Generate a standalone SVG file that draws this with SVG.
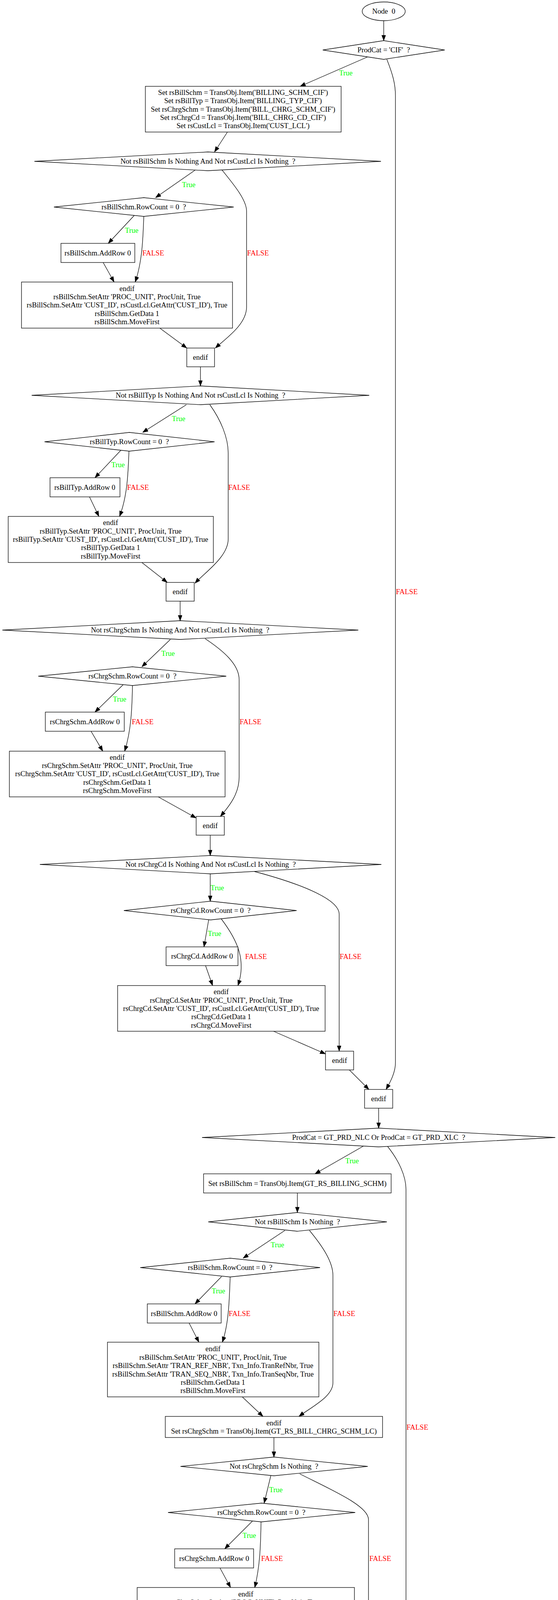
<svg xmlns="http://www.w3.org/2000/svg" width="1428" height="4405" viewBox="0 0 1428 4405" xml:space="preserve">
<style>
.n { fill: #ffffff; stroke: #000000; stroke-width: 1.3; }
.e { fill: none; stroke: #000000; stroke-width: 1.3; marker-end: url(#ah); }
text { font-family: "Liberation Serif", "Times New Roman", Times, serif; font-size: 18.67px; text-anchor: middle; fill: #000000; white-space: pre; }
.t { fill: #00ff00; }
.f { fill: #ff0000; }
</style>
<defs>
<marker id="ah" markerUnits="userSpaceOnUse" markerWidth="15" markerHeight="11" refX="14" refY="5.2" orient="auto">
<path d="M0,0 L14,5.2 L0,10.4 z" fill="#000000" stroke="#000000" stroke-width="0.8"/>
</marker>
</defs>
<rect x="0" y="0" width="1428" height="4405" fill="#ffffff"/>

<g id="edges">
<path class="e" d="M982,53 L982,104"/>
<path class="e" d="M940,146 L768,221"/>
<text class="t" x="885" y="193">True</text>
<path class="e" d="M990,152 C1005,190 1012,215 1012,245 L1012,2720 C1012,2745 1000,2768 988,2789"/>
<text class="f" x="1041" y="1521">FALSE</text>
<path class="e" d="M582,338 L549,389"/>

<path class="e" d="M500,435 L398,506"/>
<text class="t" x="483" y="479">True</text>
<path class="e" d="M345,550 L277,623"/>
<text class="t" x="337" y="596">True</text>
<path class="e" d="M368,554 C366,610 364,670 346,722"/>
<text class="f" x="392" y="654">FALSE</text>
<path class="e" d="M264,672 L292,722"/>
<path class="e" d="M409,840 L478,891"/>
<path class="e" d="M568,435 C598,472 631,512 631,540 L631,786 C631,830 580,865 551,891"/>
<text class="f" x="660" y="654">FALSE</text>
<path class="e" d="M513,939 L513,988"/>

<path class="e" d="M477,1036 L365,1107"/>
<text class="t" x="457" y="1078">True</text>
<path class="e" d="M309,1153 L243,1223"/>
<text class="t" x="302" y="1196">True</text>
<path class="e" d="M330,1155 C328,1210 326,1270 306,1322"/>
<text class="f" x="353" y="1254">FALSE</text>
<path class="e" d="M229,1272 L253,1322"/>
<path class="e" d="M363,1440 L428,1491"/>
<path class="e" d="M537,1036 C565,1075 584,1120 584,1160 L584,1380 C584,1425 525,1465 499,1493"/>
<text class="f" x="612" y="1254">FALSE</text>
<path class="e" d="M461,1539 L461,1589"/>

<path class="e" d="M436,1637 L363,1707"/>
<text class="t" x="430" y="1679">True</text>
<path class="e" d="M315,1753 L243,1823"/>
<text class="t" x="306" y="1796">True</text>
<path class="e" d="M339,1755 C338,1810 336,1870 319,1923"/>
<text class="f" x="365" y="1854">FALSE</text>
<path class="e" d="M233,1872 L263,1923"/>
<path class="e" d="M405,2040 L502,2094"/>
<path class="e" d="M525,1635 C570,1665 612,1700 612,1740 L612,1989 C612,2030 590,2060 564,2090"/>
<text class="f" x="641" y="1854">FALSE</text>
<path class="e" d="M538,2138 L538,2190"/>

<path class="e" d="M538,2237 L538,2307"/>
<text class="t" x="556" y="2279">True</text>
<path class="e" d="M534,2355 L522,2424"/>
<text class="t" x="549" y="2396">True</text>
<path class="e" d="M566,2352 C610,2410 630,2460 609,2523"/>
<text class="f" x="655" y="2455">FALSE</text>
<path class="e" d="M526,2472 L544,2523"/>
<path class="e" d="M700,2640 L833,2698"/>
<path class="e" d="M651,2231 C760,2260 868,2300 868,2340 L868,2691"/>
<text class="f" x="897" y="2455">FALSE</text>
<path class="e" d="M894,2739 L944,2789"/>
<path class="e" d="M969,2837 L969,2888"/>

<path class="e" d="M930,2934 L806,3005"/>
<text class="t" x="901" y="2978">True</text>
<path class="e" d="M992,2935 C1020,2970 1039,3010 1039,3045 L1039,4277 C1039,4310 1030,4330 1020,4352"/>
<text class="f" x="1068" y="3660">FALSE</text>
<path class="e" d="M761,3054 L761,3104"/>
<path class="e" d="M729,3150 L622,3221"/>
<text class="t" x="710" y="3193">True</text>
<path class="e" d="M567,3268 L499,3338"/>
<text class="t" x="559" y="3311">True</text>
<path class="e" d="M589,3269 C587,3330 585,3390 569,3436"/>
<text class="f" x="613" y="3369">FALSE</text>
<path class="e" d="M484,3387 L509,3436"/>
<path class="e" d="M620,3576 L673,3626"/>
<path class="e" d="M792,3150 C825,3190 852,3230 852,3265 L852,3540 C852,3575 800,3600 765,3626"/>
<text class="f" x="881" y="3369">FALSE</text>
<path class="e" d="M701,3680 L701,3730"/>

<path class="e" d="M693,3778 L676,3848"/>
<text class="t" x="706" y="3820">True</text>
<path class="e" d="M646,3894 L575,3965"/>
<text class="t" x="638" y="3937">True</text>
<path class="e" d="M668,3896 C667,3960 665,4010 652,4064"/>
<text class="f" x="696" y="3996">FALSE</text>
<path class="e" d="M563,4014 L590,4064"/>
<path class="e" d="M782,4203 L908,4260"/>
<path class="e" d="M767,3773 C850,3815 943,3855 943,3890 L943,4253"/>
<text class="f" x="973" y="3996">FALSE</text>
<path class="e" d="M960,4301 L991,4352"/>
</g>

<g id="node0">
<ellipse class="n" cx="982" cy="29" rx="55" ry="24"/>
<text x="982" y="35">Node  0</text>
</g>
<g id="cond_cif">
<polygon class="n" points="982,104 1138,128 982,152 826,128"/>
<text x="982" y="134">ProdCat = 'CIF'  ?</text>
</g>
<g id="set_cif">
<rect class="n" x="372" y="221" width="501" height="117"/>
<text x="622" y="243">Set rsBillSchm = TransObj.Item('BILLING_SCHM_CIF')</text>
<text x="622" y="264">Set rsBillTyp = TransObj.Item('BILLING_TYP_CIF')</text>
<text x="622" y="286">Set rsChrgSchm = TransObj.Item('BILL_CHRG_SCHM_CIF')</text>
<text x="622" y="307">Set rsChrgCd = TransObj.Item('BILL_CHRG_CD_CIF')</text>
<text x="622" y="328">Set rsCustLcl = TransObj.Item('CUST_LCL')</text>
</g>

<g id="cond_billschm">
<polygon class="n" points="532,389 975,413 532,437 88,413"/>
<text x="532" y="419">Not rsBillSchm Is Nothing And Not rsCustLcl Is Nothing  ?</text>
</g>
<g id="rc_billschm">
<polygon class="n" points="368,506 598,530 368,554 138,530"/>
<text x="368" y="536">rsBillSchm.RowCount = 0  ?</text>
</g>
<g id="add_billschm">
<rect class="n" x="156" y="623" width="189" height="49"/>
<text x="250" y="654">rsBillSchm.AddRow 0</text>
</g>
<g id="set_billschm">
<rect class="n" x="55" y="722" width="540" height="118"/>
<text x="325" y="745">endif</text>
<text x="325" y="766">rsBillSchm.SetAttr 'PROC_UNIT', ProcUnit, True</text>
<text x="325" y="787">rsBillSchm.SetAttr 'CUST_ID', rsCustLcl.GetAttr('CUST_ID'), True</text>
<text x="325" y="809">rsBillSchm.GetData 1</text>
<text x="325" y="830">rsBillSchm.MoveFirst</text>
</g>
<g id="endif_billschm">
<rect class="n" x="478" y="891" width="71" height="48"/>
<text x="513" y="921">endif</text>
</g>

<g id="cond_billtyp">
<polygon class="n" points="513,988 945,1012 513,1036 81,1012"/>
<text x="513" y="1018">Not rsBillTyp Is Nothing And Not rsCustLcl Is Nothing  ?</text>
</g>
<g id="rc_billtyp">
<polygon class="n" points="331,1107 549,1131 331,1155 114,1131"/>
<text x="331" y="1137">rsBillTyp.RowCount = 0  ?</text>
</g>
<g id="add_billtyp">
<rect class="n" x="128" y="1223" width="179" height="49"/>
<text x="217" y="1254">rsBillTyp.AddRow 0</text>
</g>
<g id="set_billtyp">
<rect class="n" x="21" y="1322" width="525" height="118"/>
<text x="283" y="1344">endif</text>
<text x="283" y="1366">rsBillTyp.SetAttr 'PROC_UNIT', ProcUnit, True</text>
<text x="283" y="1387">rsBillTyp.SetAttr 'CUST_ID', rsCustLcl.GetAttr('CUST_ID'), True</text>
<text x="283" y="1408">rsBillTyp.GetData 1</text>
<text x="283" y="1430">rsBillTyp.MoveFirst</text>
</g>
<g id="endif_billtyp">
<rect class="n" x="425" y="1491" width="72" height="48"/>
<text x="461" y="1521">endif</text>
</g>

<g id="cond_chrgschm">
<polygon class="n" points="461,1589 917,1613 461,1637 6,1613"/>
<text x="461" y="1619">Not rsChrgSchm Is Nothing And Not rsCustLcl Is Nothing  ?</text>
</g>
<g id="rc_chrgschm">
<polygon class="n" points="339,1707 579,1731 339,1755 98,1731"/>
<text x="339" y="1737">rsChrgSchm.RowCount = 0  ?</text>
</g>
<g id="add_chrgschm">
<rect class="n" x="116" y="1823" width="202" height="49"/>
<text x="217" y="1854">rsChrgSchm.AddRow 0</text>
</g>
<g id="set_chrgschm">
<rect class="n" x="24" y="1923" width="552" height="117"/>
<text x="300" y="1945">endif</text>
<text x="300" y="1966">rsChrgSchm.SetAttr 'PROC_UNIT', ProcUnit, True</text>
<text x="300" y="1987">rsChrgSchm.SetAttr 'CUST_ID', rsCustLcl.GetAttr('CUST_ID'), True</text>
<text x="300" y="2009">rsChrgSchm.GetData 1</text>
<text x="300" y="2030">rsChrgSchm.MoveFirst</text>
</g>
<g id="endif_chrgschm">
<rect class="n" x="502" y="2090" width="72" height="48"/>
<text x="538" y="2120">endif</text>
</g>

<g id="cond_chrgcd">
<polygon class="n" points="539,2190 976,2213 539,2237 102,2213"/>
<text x="539" y="2219">Not rsChrgCd Is Nothing And Not rsCustLcl Is Nothing  ?</text>
</g>
<g id="rc_chrgcd">
<polygon class="n" points="539,2307 759,2331 539,2355 317,2331"/>
<text x="539" y="2337">rsChrgCd.RowCount = 0  ?</text>
</g>
<g id="add_chrgcd">
<rect class="n" x="425" y="2424" width="184" height="48"/>
<text x="517" y="2454">rsChrgCd.AddRow 0</text>
</g>
<g id="set_chrgcd">
<rect class="n" x="301" y="2523" width="531" height="117"/>
<text x="566" y="2545">endif</text>
<text x="566" y="2567">rsChrgCd.SetAttr 'PROC_UNIT', ProcUnit, True</text>
<text x="566" y="2588">rsChrgCd.SetAttr 'CUST_ID', rsCustLcl.GetAttr('CUST_ID'), True</text>
<text x="566" y="2609">rsChrgCd.GetData 1</text>
<text x="566" y="2631">rsChrgCd.MoveFirst</text>
</g>
<g id="endif_chrgcd">
<rect class="n" x="833" y="2691" width="72" height="48"/>
<text x="869" y="2721">endif</text>
</g>
<g id="endif_cif">
<rect class="n" x="933" y="2789" width="72" height="48"/>
<text x="969" y="2819">endif</text>
</g>

<g id="cond_gt">
<polygon class="n" points="969,2888 1421,2912 969,2936 517,2912"/>
<text x="969" y="2918">ProdCat = GT_PRD_NLC Or ProdCat = GT_PRD_XLC  ?</text>
</g>
<g id="set_gt_billschm">
<rect class="n" x="521" y="3005" width="480" height="49"/>
<text x="761" y="3036">Set rsBillSchm = TransObj.Item(GT_RS_BILLING_SCHM)</text>
</g>
<g id="cond_gt_billschm">
<polygon class="n" points="761,3104 990,3128 761,3152 533,3128"/>
<text x="761" y="3134">Not rsBillSchm Is Nothing  ?</text>
</g>
<g id="rc_gt_billschm">
<polygon class="n" points="589,3221 819,3245 589,3269 359,3245"/>
<text x="589" y="3251">rsBillSchm.RowCount = 0  ?</text>
</g>
<g id="add_gt_billschm">
<rect class="n" x="377" y="3338" width="189" height="49"/>
<text x="471" y="3369">rsBillSchm.AddRow 0</text>
</g>
<g id="set_gt_billschm_attr">
<rect class="n" x="275" y="3436" width="541" height="140"/>
<text x="545" y="3459">endif</text>
<text x="545" y="3481">rsBillSchm.SetAttr 'PROC_UNIT', ProcUnit, True</text>
<text x="545" y="3502">rsBillSchm.SetAttr 'TRAN_REF_NBR', Txn_Info.TranRefNbr, True</text>
<text x="545" y="3524">rsBillSchm.SetAttr 'TRAN_SEQ_NBR', Txn_Info.TranSeqNbr, True</text>
<text x="545" y="3545">rsBillSchm.GetData 1</text>
<text x="545" y="3566">rsBillSchm.MoveFirst</text>
</g>
<g id="set_gt_chrgschm">
<rect class="n" x="423" y="3626" width="556" height="54"/>
<text x="701" y="3649">endif</text>
<text x="701" y="3670">Set rsChrgSchm = TransObj.Item(GT_RS_BILL_CHRG_SCHM_LC)</text>
</g>
<g id="cond_gt_chrgschm">
<polygon class="n" points="701,3730 941,3754 701,3778 462,3754"/>
<text x="701" y="3760">Not rsChrgSchm Is Nothing  ?</text>
</g>
<g id="rc_gt_chrgschm">
<polygon class="n" points="669,3848 909,3872 669,3896 430,3872"/>
<text x="669" y="3878">rsChrgSchm.RowCount = 0  ?</text>
</g>
<g id="add_gt_chrgschm">
<rect class="n" x="447" y="3965" width="202" height="49"/>
<text x="548" y="3996">rsChrgSchm.AddRow 0</text>
</g>
<g id="set_gt_chrgschm_attr">
<rect class="n" x="351" y="4064" width="556" height="139"/>
<text x="629" y="4087">endif</text>
<text x="629" y="4108">rsChrgSchm.SetAttr 'PROC_UNIT', ProcUnit, True</text>
<text x="629" y="4130">rsChrgSchm.SetAttr 'TRAN_REF_NBR', Txn_Info.TranRefNbr, True</text>
<text x="629" y="4151">rsChrgSchm.SetAttr 'TRAN_SEQ_NBR', Txn_Info.TranSeqNbr, True</text>
<text x="629" y="4172">rsChrgSchm.GetData 1</text>
<text x="629" y="4194">rsChrgSchm.MoveFirst</text>
</g>
<g id="endif_gt_chrgschm">
<rect class="n" x="908" y="4253" width="72" height="48"/>
<text x="944" y="4283">endif</text>
</g>
<g id="endif_gt">
<rect class="n" x="970" y="4352" width="72" height="48"/>
<text x="1006" y="4382">endif</text>
</g>
</svg>
